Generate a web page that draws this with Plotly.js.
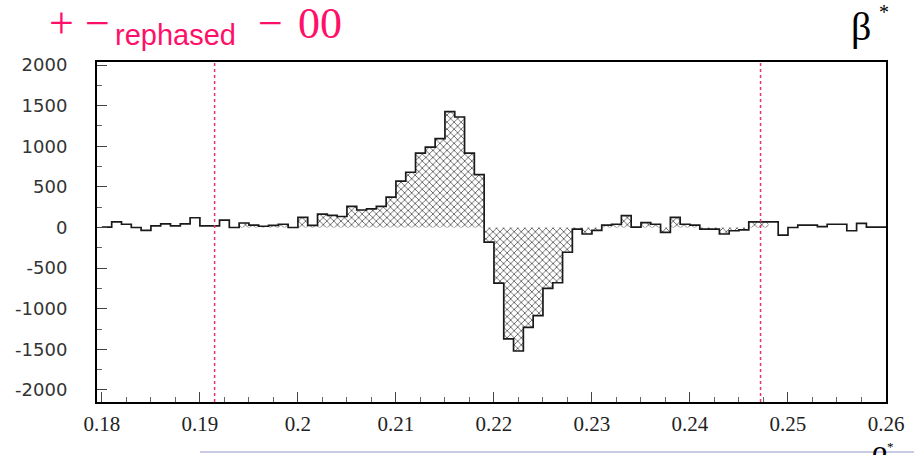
<!DOCTYPE html>
<html>
<head>
<meta charset="utf-8">
<script src="https://cdn.plot.ly/plotly-3.0.1.min.js"></script>
<style>html,body{margin:0;padding:0;background:#fff;}#chart{width:914px;height:455px;}</style>
</head>
<body>
<div id="chart"></div>
<script>
// Histogram binning (80 bins of 0.001 from 0.18 to 0.26)
const binStart = 0.18;
const binWidth = 0.001;
// Bin contents
const binValues = [
  5, 70, 40, 0, -35, 20, 45, 20, 45, 120,
  20, 20, 90, 0, 55, 30, 15, 25, 40, 0,
  125, 25, 165, 150, 135, 260, 215, 230, 260, 375,
  570, 680, 915, 990, 1095, 1425, 1360, 915, 650, -180,
  -685, -1370, -1520, -1230, -1085, -750, -680, -305, -20, -80,
  -35, 30, 40, 145, 5, 60, 40, -60, 125, 40,
  30, -20, -20, -80, -40, -30, 70, 70, 70, -95,
  0, 30, 30, 10, 40, 40, -40, 50, 5, 5
];
// Hatched (signal) bin range: first and last bin index
const hatchBins = [13, 67];
// Vertical dotted marker positions
const windowEdges = [0.1915, 0.2472];
// Tick labels
const xTickVals = [0.18, 0.19, 0.20, 0.21, 0.22, 0.23, 0.24, 0.25, 0.26];
const xTickText = ['0.18', '0.19', '0.2', '0.21', '0.22', '0.23', '0.24', '0.25', '0.26'];
const yTickVals = [-2000, -1500, -1000, -500, 0, 500, 1000, 1500, 2000];
const yTickText = ['-2000', '-1500', '-1000', '-500', '0', '500', '1000', '1500', '2000'];

// Build step outline
const edges = [];
for (let i = 0; i <= binValues.length; i++) edges.push(+(binStart + i * binWidth).toFixed(4));
const stepY = binValues.concat([binValues[binValues.length - 1]]);

const hx = edges.slice(hatchBins[0], hatchBins[1] + 2);
const hvals = binValues.slice(hatchBins[0], hatchBins[1] + 1);
const hy = hvals.concat([hvals[hvals.length - 1]]);

const hatch = {
  x: hx, y: hy, type: 'scatter', mode: 'lines',
  line: {shape: 'hv', width: 0, color: 'rgba(0,0,0,0)'},
  fill: 'tozeroy', fillcolor: 'rgba(255,255,255,0)',
  fillpattern: {shape: 'x', size: 5, solidity: 0.3, fgcolor: '#555', bgcolor: 'rgba(255,255,255,0)'},
  hoverinfo: 'skip', showlegend: false
};
const outline = {
  x: edges, y: stepY, type: 'scatter', mode: 'lines',
  line: {shape: 'hv', width: 1.7, color: '#1a1a1a'},
  hoverinfo: 'skip', showlegend: false
};

// pixel helpers for annotations in paper coords
const L = 97, R = 886, T = 62, B = 402;
const px = v => (v - L) / (R - L);
const py = v => (B - v) / (B - T);

const pink = '#ff1068';
const serif = '"Liberation Serif", "Times New Roman", Times, serif';
const sans = '"Liberation Sans", Arial, sans-serif';

function note(text, x, y, xanchor, yanchor, family, size, color) {
  return {text: text, xref: 'paper', yref: 'paper', x: px(x), y: py(y), xanchor: xanchor, yanchor: yanchor,
          showarrow: false, font: {family: family, size: size, color: color}};
}

const layout = {
  width: 914, height: 455,
  margin: {l: L, r: 914 - R, t: T, b: 455 - B, pad: 0},
  paper_bgcolor: '#fff', plot_bgcolor: '#fff',
  showlegend: false,
  xaxis: {
    range: [0.1795, 0.26],
    tickvals: xTickVals, ticktext: xTickText,
    ticks: 'inside', ticklen: 10, tickwidth: 1, tickcolor: '#444',
    minor: {dtick: 0.0025, tick0: 0.18, ticks: 'inside', ticklen: 5, tickwidth: 1, tickcolor: '#666', showgrid: false},
    showline: true, linewidth: 2, linecolor: '#000', mirror: true,
    showgrid: false, zeroline: false,
    tickfont: {family: serif, size: 21, color: '#222'},
    ticklabelstandoff: 2
  },
  yaxis: {
    range: [-2148, 2037],
    tickvals: yTickVals, ticktext: yTickText,
    ticks: 'inside', ticklen: 10, tickwidth: 1, tickcolor: '#444',
    minor: {dtick: 250, tick0: 0, ticks: 'inside', ticklen: 5, tickwidth: 1, tickcolor: '#666', showgrid: false},
    showline: true, linewidth: 2, linecolor: '#000', mirror: true,
    showgrid: false, zeroline: false,
    tickfont: {family: '"DejaVu Sans", Verdana, sans-serif', size: 18, color: '#333'},
    ticklabelstandoff: 24
  },
  shapes: windowEdges.map(v => ({
    type: 'line', xref: 'x', yref: 'paper', x0: v, x1: v, y0: 0, y1: 1,
    line: {color: '#e8336d', width: 1.5, dash: 'dot'}
  })).concat([{
    type: 'line', xref: 'paper', yref: 'paper', x0: px(200), x1: px(914), y0: py(452), y1: py(452),
    line: {color: '#b8b8dc', width: 1.5}
  }]),
  annotations: [
    note('+', 61, 24, 'center', 'middle', serif, 44, pink),
    note('−', 97, 24, 'center', 'middle', serif, 44, pink),
    note('rephased', 113, 35, 'left', 'middle', sans, 29, pink),
    note('−', 270, 24, 'center', 'middle', serif, 44, pink),
    note('00', 296, 24, 'left', 'middle', serif, 44, pink),
    note('β', 861, 27, 'center', 'middle', serif, 40, '#000'),
    note('*', 884, 12, 'center', 'middle', serif, 20, '#000'),
    note('β', 879, 439, 'center', 'top', serif, 34, '#000'),
    note('*', 890, 446, 'center', 'middle', serif, 13, '#000')
  ]
};

Plotly.newPlot('chart', [hatch, outline], layout, {staticPlot: true, displayModeBar: false});
</script>
</body>
</html>
